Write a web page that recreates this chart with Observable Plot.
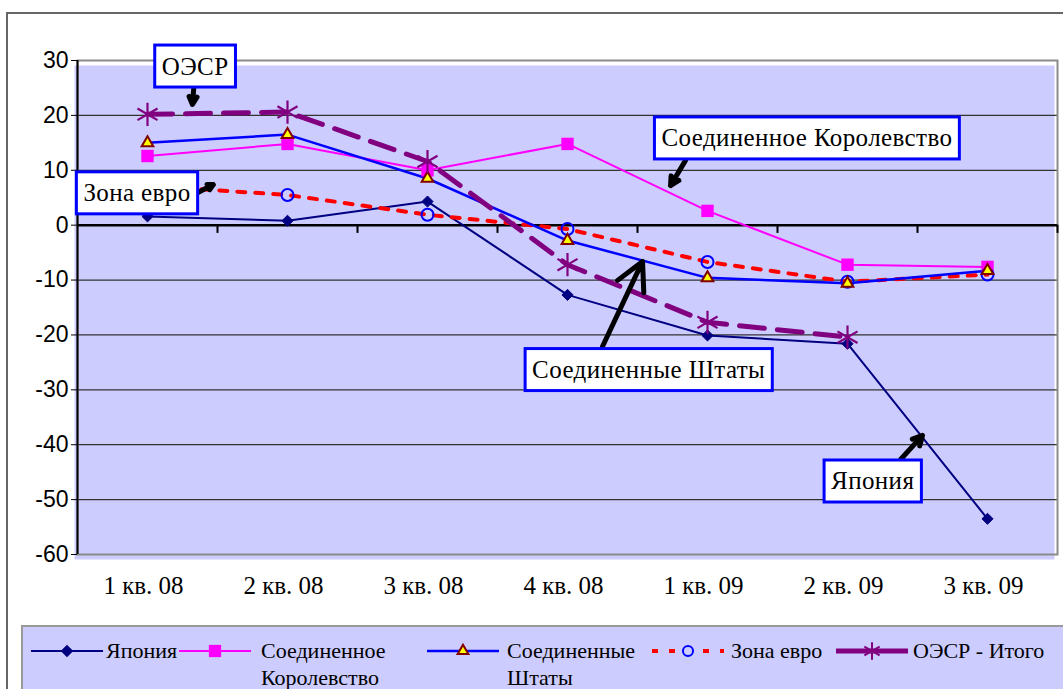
<!DOCTYPE html>
<html>
<head>
<meta charset="utf-8">
<script src="https://cdn.jsdelivr.net/npm/d3@7"></script>
<script src="https://cdn.jsdelivr.net/npm/@observablehq/plot@0.6"></script>
<style>
  html, body { margin: 0; padding: 0; background: #ffffff; }
  #wrap { position: relative; width: 1063px; height: 689px; overflow: hidden; background: #fff; }
  #outer { position: absolute; left: 6px; top: 12px; width: 1100px; height: 700px; border: 2px solid #666; box-sizing: border-box; }
  #chart { position: absolute; left: 0; top: 0; }
  #legend { position: absolute; left: 21px; top: 625px; width: 1060px; height: 80px; background: #CCCCFF; border: 2px solid #999; box-sizing: border-box;
            font-family: "Liberation Serif", "Times New Roman", serif; font-size: 22px; color: #000; }
  .li { position: absolute; white-space: nowrap; line-height: 27px; }
  .sym { position: absolute; }
</style>
</head>
<body>
<div id="wrap">
  <div id="outer"></div>
  <div id="chart"></div>
  <div id="legend"></div>
</div>
<script>
// ---------- data ----------
const quarters = ["1 кв. 08", "2 кв. 08", "3 кв. 08", "4 кв. 08", "1 кв. 09", "2 кв. 09", "3 кв. 09"];
const japan = [1.6, 0.8, 4.3, -12.7, -20.1, -21.6, -53.5];
const uk    = [12.6, 14.8, 10.0, 14.8, 2.6, -7.2, -7.6];
const us    = [15.0, 16.5, 8.5, -2.8, -9.6, -10.6, -8.3];
const euro  = [7.2, 5.5, 1.9, -0.7, -6.7, -10.3, -9.0];
const oecd  = [20.2, 20.6, 11.6, -7.2, -17.7, -20.4, null];
const yTicks = [30, 20, 10, 0, -10, -20, -30, -40, -50, -60];
const seriesNames = ["Япония", "Соединенное Королевство", "Соединенные Штаты", "Зона евро", "ОЭСР - Итого"];

// callout labels (data coordinates: x = quarter index, y = value)
const calloutText = ["ОЭСР", "Зона евро", "Соединенное Королевство", "Соединенные Штаты", "Япония"];
const calloutX = [0.34, -0.075, 4.71, 3.58, 5.18];
const calloutY = [28.9, 5.8, 15.8, -26.4, -46.7];
const arrowX1 = [0.336, 0.35, 3.843, 3.25, 5.379];
const arrowY1 = [26.7, 5.8, 11.8, -22.1, -42.7];
const arrowX2 = [0.321, 0.47, 3.736, 3.536, 5.536];
const arrowY2 = [22.0, 7.4, 7.2, -6.6, -38.3];

// ---------- tables ----------
const table = (vals) => quarters.map((q, i) => ({x: i, y: vals[i]}));
const callouts = calloutText.map((t, i) => ({text: t, x: calloutX[i], y: calloutY[i]}));
const arrows = arrowX1.map((v, i) => ({x1: v, y1: arrowY1[i], x2: arrowX2[i], y2: arrowY2[i]}));
const bounds = d3.range(quarters.length + 1).map(i => i - 0.5);

const serif = "Liberation Serif, Times New Roman, serif";
const sans = "Liberation Sans, Arial, sans-serif";

const chart = Plot.plot({
  width: 1063,
  height: 620,
  marginLeft: 77,
  marginRight: 6,
  marginTop: 60,
  marginBottom: 66,
  style: {fontFamily: serif, background: "transparent", color: "#000"},
  x: {domain: [-0.5, 6.5]},
  y: {domain: [-60, 30]},
  marks: [
    Plot.frame({fill: "#CCCCFF", dx: -3, dy: 5}),
    Plot.ruleY(yTicks.filter(v => v !== 0), {stroke: "#333", strokeWidth: 1.2}),
    Plot.frame({stroke: "#8a8a8a", strokeWidth: 2}),
    Plot.ruleY([0], {stroke: "#000", strokeWidth: 2.5}),
    Plot.ruleX(bounds.slice(1), {y1: 0, y2: -1.5, stroke: "#000", strokeWidth: 2}),
    Plot.ruleX([-0.5], {stroke: "#000", strokeWidth: 2}),
    Plot.axisY({ticks: yTicks, tickSize: 6, tickPadding: 3, fontSize: 23, fontFamily: sans, tickFormat: d => String(d).replace("−", "-")}),
    Plot.axisX({ticks: d3.range(quarters.length), tickSize: 0, tickPadding: 22, dx: -4, fontSize: 25, fontFamily: serif, tickFormat: i => quarters[i]}),

    // Japan
    Plot.line(table(japan), {x: "x", y: "y", stroke: "#000080", strokeWidth: 2}),
    // UK
    Plot.line(table(uk), {x: "x", y: "y", stroke: "#FF00FF", strokeWidth: 2}),
    // Euro
    Plot.line(table(euro), {x: "x", y: "y", stroke: "#FF0000", strokeWidth: 4, strokeDasharray: "8,10"}),
    // US
    Plot.line(table(us), {x: "x", y: "y", stroke: "#0000FF", strokeWidth: 2.5}),
    // OECD
    Plot.line(table(oecd), {x: "x", y: "y", stroke: "#800080", strokeWidth: 5, strokeDasharray: "25,13"}),

    Plot.dot(table(japan), {x: "x", y: "y", symbol: "diamond2", r: 5, fill: "#000080", stroke: "#000080", strokeWidth: 1}),
    Plot.dot(table(uk), {x: "x", y: "y", symbol: "square", r: 7, fill: "#FF00FF", stroke: "none"}),
    Plot.dot(table(euro), {x: "x", y: "y", symbol: "circle", r: 6, fill: "none", stroke: "#0000FF", strokeWidth: 2}),
    Plot.dot(table(us), {x: "x", y: "y", symbol: "triangle", r: 4.3, fill: "#FFFF00", stroke: "#800000", strokeWidth: 2}),
    Plot.dot(table(oecd), {x: "x", y: "y", symbol: "asterisk", r: 11, stroke: "#800080", strokeWidth: 2.2}),

    Plot.arrow(arrows, {x1: "x1", y1: "y1", x2: "x2", y2: "y2", stroke: "#000", strokeWidth: 5, headLength: 14, headAngle: 55}),
    Plot.text(callouts, {x: "x", y: "y", text: "text", fontSize: 25, fontFamily: serif, fill: "#000", textAnchor: "middle"})
  ]
});
document.getElementById("chart").appendChild(chart);

// white boxes with blue border behind the callout texts
d3.select(chart).selectAll('g[aria-label="text"] text').each(function () {
  d3.select(this).attr("letter-spacing", "0.4px");
  const b = this.getBBox();
  const padX = 7, h = 42;
  const cy = b.y + b.height / 2;
  d3.select(this.parentNode).insert("rect", () => this)
    .attr("transform", this.getAttribute("transform"))
    .attr("x", b.x - padX).attr("y", cy - h / 2)
    .attr("width", b.width + 2 * padX).attr("height", h)
    .attr("fill", "#fff").attr("stroke", "#0000FF").attr("stroke-width", 3);
});

// ---------- legend ----------
const legend = document.getElementById("legend");
const legendItems = [
  {name: ["Япония"], symX: 8, textX: 83, stroke: "#000080", w: 2, dash: null, marker: "diamond"},
  {name: ["Соединенное", "Королевство"], symX: 156, textX: 238, stroke: "#FF00FF", w: 2, dash: null, marker: "square"},
  {name: ["Соединенные", "Штаты"], symX: 404, textX: 484, stroke: "#0000FF", w: 2.5, dash: null, marker: "triangle"},
  {name: ["Зона евро"], symX: 629, textX: 708, stroke: "#FF0000", w: 4, dash: "6,11", marker: "circle"},
  {name: ["ОЭСР - Итого"], symX: 813, textX: 890, stroke: "#800080", w: 5, dash: null, marker: "asterisk"}
];
legendItems.forEach((it, k) => {
  const svg = d3.create("svg").attr("width", 74).attr("height", 20).attr("class", "sym")
    .style("left", it.symX + "px").style("top", "14px");
  svg.append("line").attr("x1", 0).attr("x2", 72).attr("y1", 10).attr("y2", 10)
    .attr("stroke", it.stroke).attr("stroke-width", it.w).attr("stroke-dasharray", it.dash);
  const m = {
    diamond: {t: d3.symbolDiamond2 || d3.symbolSquare, size: 60, fill: "#000080", stroke: "#000080", rot: d3.symbolDiamond2 ? 0 : 45},
    square: {t: d3.symbolSquare, size: 150, fill: "#FF00FF", stroke: "none", rot: 0},
    triangle: {t: d3.symbolTriangle, size: 50, fill: "#FFFF00", stroke: "#800000", rot: 0},
    circle: {t: d3.symbolCircle, size: 80, fill: "none", stroke: "#0000FF", rot: 0},
    asterisk: {t: d3.symbolAsterisk, size: 220, fill: "none", stroke: "#800080", rot: 0}
  }[it.marker];
  if (it.marker === "circle") {
    svg.append("rect").attr("x", 26).attr("y", 4).attr("width", 20).attr("height", 12).attr("fill", "#CCCCFF");
  }
  svg.append("path").attr("d", d3.symbol(m.t, m.size)()).attr("transform", `translate(36,10) rotate(${m.rot})`)
    .attr("fill", m.fill).attr("stroke", m.stroke).attr("stroke-width", 2);
  legend.appendChild(svg.node());
  const div = document.createElement("div");
  div.className = "li";
  div.style.left = it.textX + "px";
  div.style.top = "10px";
  div.innerHTML = it.name.join("<br>");
  legend.appendChild(div);
});
</script>
</body>
</html>
